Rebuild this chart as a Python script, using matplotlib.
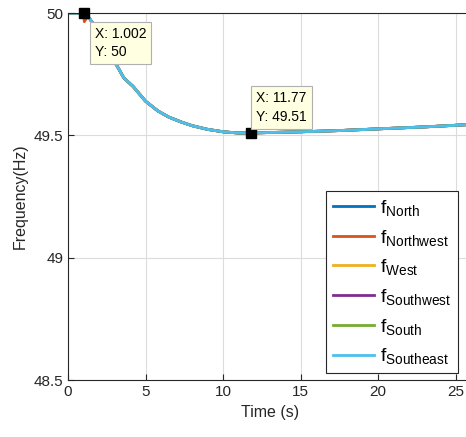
import matplotlib.pyplot as plt
import numpy as np

plt.rcParams["font.family"] = ["Liberation Sans", "DejaVu Sans"]
plt.rcParams["mathtext.default"] = "regular"

# time (s) and common frequency trace (Hz)
t = [0, 0.9, 1.0, 1.3, 1.7, 2.2, 2.8, 3.2, 3.6, 4.2, 5.0, 5.8, 6.5, 7.3, 8.0,
     9.0, 10.0, 11.0, 11.77, 13.0, 15.0, 17.5, 20.0, 23.0, 26.0]
f_base = [50.0, 50.0, 50.0, 49.985, 49.95, 49.89, 49.82, 49.78, 49.735, 49.70,
          49.64, 49.60, 49.575, 49.555, 49.54, 49.525, 49.515, 49.51, 49.51,
          49.512, 49.515, 49.52, 49.527, 49.535, 49.545]
# Northwest shows a brief dip right after the disturbance
t_nw = [0, 0.9, 1.0, 1.05, 1.15, 1.3, 1.7]
f_nw = [50.0, 50.0, 50.0, 49.965, 49.975, 49.985, 49.95]

names = ["North", "Northwest", "West", "Southwest", "South", "Southeast"]
colors = ["#0072BD", "#D95319", "#EDB120", "#7E2F8E", "#77AC30", "#4DBEEE"]

tips = [(1.002, 50), (11.77, 49.51)]

fig = plt.figure(figsize=(4.66, 4.37), dpi=100)
ax = fig.add_axes([0.146, 0.130, 0.865, 0.840])

for name, c in zip(names, colors):
    if name == "Northwest":
        tt = t_nw + t[6:]
        ff = f_nw + f_base[6:]
    else:
        tt, ff = t, f_base
    ax.plot(tt, ff, color=c, linewidth=2, label=r"f$_{%s}$" % name)

for x, y in tips:
    ax.plot(x, y, marker="s", color="black", markersize=7, zorder=5, clip_on=False)

box = dict(boxstyle="square,pad=0.35", facecolor="#FFFFE1", edgecolor="#B0B0B0", linewidth=0.8)
ax.annotate("X: 1.002\nY: 50  ", xy=(1.002, 50), xytext=(8, -10),
            textcoords="offset points", va="top", ha="left", fontsize=10,
            bbox=box, linespacing=1.4, zorder=6)
ax.annotate("X: 11.77\nY: 49.51", xy=(11.77, 49.51), xytext=(4, 30),
            textcoords="offset points", va="top", ha="left", fontsize=10,
            bbox=box, linespacing=1.4, zorder=6)

ax.set_xlim(0, 26)
ax.set_ylim(48.5, 50)
ax.set_xticks([0, 5, 10, 15, 20, 25])
ax.set_yticks([48.5, 49, 49.5, 50])
ax.set_yticklabels(["48.5", "49", "49.5", "50"])
ax.tick_params(direction="in", labelsize=11, length=4, colors="#262626")
ax.grid(True, color="#DCDCDC", linewidth=0.8)
for s in ax.spines.values():
    s.set_color("#262626")
ax.set_xlabel("Time (s)", fontsize=11.5, color="#262626")
ax.set_ylabel("Frequency(Hz)", fontsize=11.5, color="#262626")

leg = ax.legend(loc="lower right", bbox_to_anchor=(0.968, 0.019), fontsize=14,
                fancybox=False, edgecolor="#262626", framealpha=1,
                handlelength=2.15, handletextpad=0.3, labelspacing=0.5,
                borderpad=0.35, borderaxespad=0)
leg.get_frame().set_linewidth(0.8)

fig.savefig("out.png", dpi=100)
